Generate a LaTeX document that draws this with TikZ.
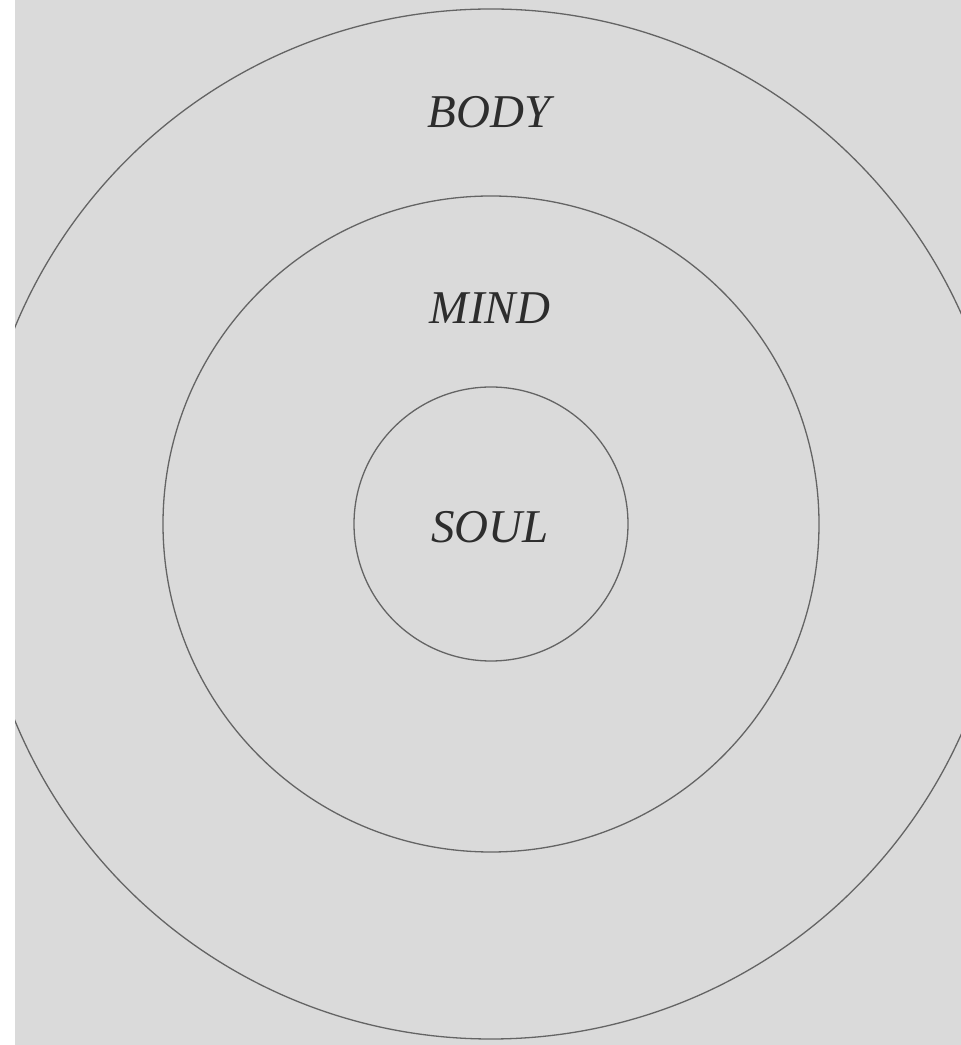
\documentclass[tikz,border=0pt]{standalone}
\usepackage{fontspec}
\setmainfont{Liberation Serif}
\definecolor{bggray}{RGB}{218,218,218}
\definecolor{ringgray}{RGB}{100,100,100}
\definecolor{textgray}{RGB}{45,45,45}
\tikzset{
  ring/.style={draw=ringgray, line width=1.3pt},
  label/.style={font=\fontsize{47}{50}\selectfont\itshape, text=textgray, inner sep=0pt},
}
\begin{document}
\begin{tikzpicture}[x=1pt,y=1pt]
\useasboundingbox (0,0) rectangle (961,1045);
\fill[white] (0,0) rectangle (961,1045);
\fill[bggray] (15,0) rectangle (961,1045);
\coordinate (c) at (491,521);
\begin{scope}
\clip (15,0) rectangle (961,1045);
\draw[ring] (c) circle[radius=515];
\draw[ring] (c) circle[radius=328];
\draw[ring] (c) circle[radius=137];
\end{scope}
\node[label] (body) at (489,933) {BODY};
\node[label] (mind) at (490,737) {MIND};
\node[label] (soul) at (490,518) {SOUL};
\end{tikzpicture}
\end{document}
